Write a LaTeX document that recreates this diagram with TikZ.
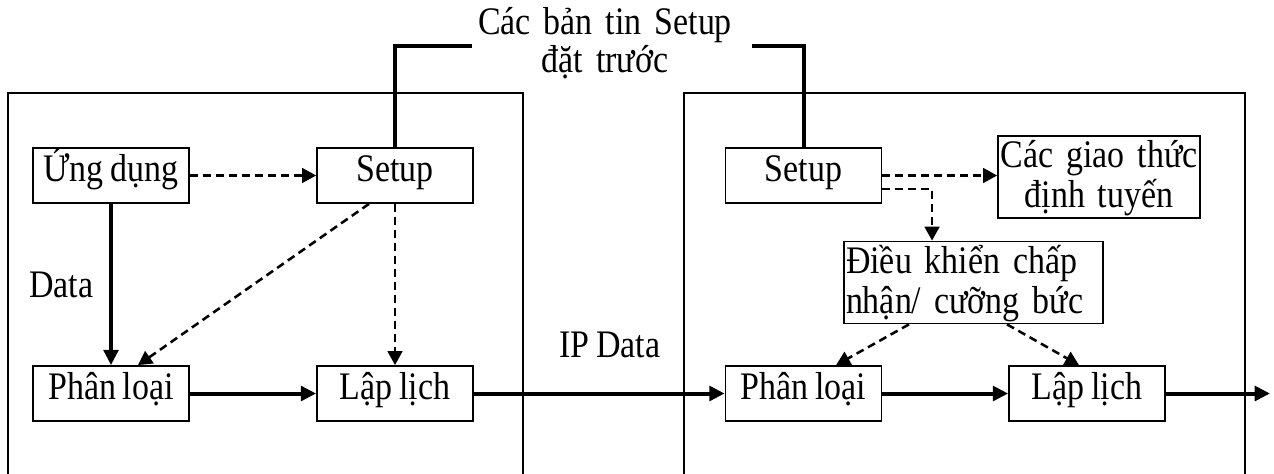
\documentclass[tikz,border=0pt]{standalone}
\usepackage{fontspec}
\setmainfont{Liberation Serif}[FakeStretch=0.87, WordSpace=0.8]
\usetikzlibrary{arrows.meta}
\begin{document}
\begin{tikzpicture}[x=0.75pt,y=-0.75pt,
  every node/.style={font=\fontsize{29.25pt}{30pt}\selectfont},
  frame/.style={line width=1.3pt},
  block/.style={draw, line width=1.3pt, inner sep=0pt, minimum width=117pt,
    text height=24.75pt, text depth=16.5pt},
  tallblock/.style={draw, line width=1.3pt, inner ysep=0pt,
    text height=24pt, text depth=37.5pt},
  thickarrow/.style={line width=3pt, -{Triangle[length=11.5pt,width=11pt]}},
  thickline/.style={line width=3pt},
  dasharrow/.style={line width=1.9pt, dash pattern=on 6pt off 3.75pt,
    -{Triangle[length=10.5pt,width=11pt]}}
]
\useasboundingbox (0,0) rectangle (1274,474);

% the two hosts
\draw[frame] (8,474) |- (523,93) -- (523,474);
\draw[frame] (684,474) |- (1245,93) -- (1245,474);

% left host
\node[block] (app)  at (111,175.5) {Ứng dụng};
\node[block] (setL) at (395,175.5) {Setup};
\node[block] (plL)  at (111,393.5) {Phân loại};
\node[block] (llL)  at (395,393.5) {Lập lịch};

% right host
\node[block] (setR) at (803.5,175.5) {Setup};
\node[tallblock, text width=151.5pt, inner xsep=0pt, align=center] (cgt)
  at (1099,177) {Các giao thức\\định tuyến};
\node[tallblock, text width=191.25pt, inner xsep=1.5pt, align=left] (dk)
  at (973.5,282.5) {Điều khiển chấp\\nhận/ cưỡng bức};
\node[block] (plR)  at (803.5,393.5) {Phân loại};
\node[block] (llR)  at (1087,393.5) {Lập lịch};

% labels
\node[align=center, text width=202.5pt, anchor=base, inner sep=0pt,
  font=\fontsize{29.25pt}{28.5pt}\selectfont] (title) at (605,35)
  {Các bản tin Setup\\đặt trước};
\node[anchor=base west, inner sep=0pt] (datalbl) at (29,297) {Data};
\node[anchor=base west, inner sep=0pt] (iplbl) at (559,357) {IP Data};

% setup messages
\coordinate (tl) at (472,46);
\coordinate (tr) at (752,46);
\draw[thickline] (setL.north) |- (tl);
\draw[thickline] (tr) -| (setR.north);

% left host connectors
\draw[dasharrow] (app.east) -- (setL.west);
\draw[thickarrow] (app.south) -- (plL.north);
\draw[dasharrow] ([xshift=-19.5pt]setL.south) -- ([xshift=20.25pt]plL.north);
\draw[dasharrow] (setL.south) -- (llL.north);
\draw[thickarrow] (plL.east) -- (llL.west);

% data path between hosts
\draw[thickarrow] (llL.east) -- (plR.west);

% right host connectors
\draw[dasharrow] (setR.east) -- (cgt.west |- setR.east);
\draw[dasharrow] ([yshift=-10pt]setR.east) -| ([xshift=-31.1pt]dk.north);
\draw[dasharrow] ([xshift=-48.4pt]dk.south) -- ([xshift=24.4pt]plR.north);
\draw[dasharrow] ([xshift=25.1pt]dk.south) -- ([xshift=-6pt]llR.north);
\draw[thickarrow] (plR.east) -- (llR.west);
\coordinate (out) at (1270,393.5);
\draw[thickarrow] (llR.east) -- (out);
\end{tikzpicture}
\end{document}
